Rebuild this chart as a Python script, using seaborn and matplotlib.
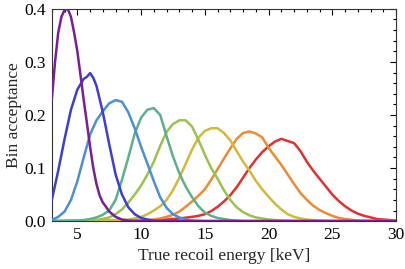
import matplotlib
matplotlib.use("Agg")
import matplotlib.pyplot as plt
import pandas as pd
import seaborn as sns
from matplotlib.ticker import MultipleLocator

# Bin acceptance curves vs true recoil energy (keV), one per energy bin
e1 = [3.0, 3.25, 3.5, 3.75, 4.0, 4.25, 4.5, 4.75, 5.0, 5.25, 5.5, 5.75, 6.0, 6.25,
      6.5, 6.75, 7.0, 7.25, 7.5, 8.0, 8.5, 9.0, 10.0, 30.0]
a1 = [0.23, 0.30, 0.355, 0.385, 0.398, 0.40, 0.385, 0.355, 0.32, 0.275, 0.228, 0.185,
      0.14, 0.10, 0.07, 0.048, 0.035, 0.027, 0.018, 0.008, 0.003, 0.001, 0.0, 0.0]

e2 = [3.0, 3.5, 4.0, 4.5, 5.0, 5.5, 5.75, 6.0, 6.25, 6.5, 7.0, 7.5, 8.0, 8.5, 9.0,
      9.5, 10.0, 10.5, 11.0, 12.0, 30.0]
a2 = [0.04, 0.095, 0.155, 0.21, 0.248, 0.268, 0.272, 0.279, 0.27, 0.255, 0.205, 0.145,
      0.088, 0.05, 0.026, 0.013, 0.006, 0.003, 0.001, 0.0, 0.0]

e3 = [3.0, 3.5, 4.0, 4.5, 5.0, 5.5, 6.0, 6.5, 7.0, 7.5, 8.0, 8.5, 9.0, 9.5, 10.0,
      10.5, 11.0, 11.5, 12.0, 12.5, 13.0, 13.5, 14.0, 15.0, 30.0]
a3 = [0.002, 0.008, 0.018, 0.04, 0.075, 0.12, 0.163, 0.19, 0.207, 0.222, 0.228, 0.225,
      0.205, 0.175, 0.14, 0.108, 0.075, 0.045, 0.025, 0.013, 0.007, 0.003, 0.001, 0.0, 0.0]

e4 = [3.0, 5.0, 5.5, 6.0, 6.5, 7.0, 7.5, 8.0, 8.5, 9.0, 9.5, 10.0, 10.5, 11.0, 11.5,
      12.0, 12.5, 13.0, 13.5, 14.0, 14.5, 15.0, 15.5, 16.0, 17.0, 18.0, 30.0]
a4 = [0.0, 0.001, 0.002, 0.004, 0.007, 0.012, 0.02, 0.04, 0.078, 0.12, 0.165, 0.195,
      0.21, 0.213, 0.2, 0.16, 0.122, 0.09, 0.065, 0.045, 0.028, 0.016, 0.01, 0.006,
      0.002, 0.0, 0.0]

e5 = [3.0, 6.0, 7.0, 7.5, 8.0, 8.5, 9.0, 9.5, 10.0, 10.5, 11.0, 11.5, 12.0, 12.5, 13.0,
      13.5, 14.0, 14.5, 15.0, 15.5, 16.0, 16.5, 17.0, 17.5, 18.0, 18.5, 19.0, 19.5,
      20.0, 21.0, 22.0, 30.0]
a5 = [0.0, 0.001, 0.004, 0.007, 0.013, 0.022, 0.035, 0.05, 0.067, 0.088, 0.112, 0.142,
      0.168, 0.183, 0.19, 0.19, 0.178, 0.153, 0.125, 0.1, 0.08, 0.058, 0.04, 0.026,
      0.017, 0.011, 0.007, 0.005, 0.003, 0.001, 0.0, 0.0]

e6 = [3.0, 8.0, 9.0, 9.5, 10.0, 10.5, 11.0, 11.5, 12.0, 12.5, 13.0, 13.5, 14.0, 14.5,
      15.0, 15.5, 16.0, 16.5, 17.0, 17.5, 18.0, 18.5, 19.0, 19.5, 20.0, 20.5, 21.0,
      21.5, 22.0, 22.5, 23.0, 24.0, 25.0, 30.0]
a6 = [0.0, 0.001, 0.003, 0.005, 0.008, 0.013, 0.02, 0.028, 0.04, 0.058, 0.082, 0.108,
      0.135, 0.157, 0.17, 0.175, 0.175, 0.166, 0.152, 0.132, 0.112, 0.095, 0.076, 0.06,
      0.046, 0.033, 0.022, 0.013, 0.008, 0.005, 0.003, 0.001, 0.0, 0.0]

e7 = [3.0, 10.0, 11.0, 11.5, 12.0, 12.5, 13.0, 13.5, 14.0, 14.5, 15.0, 15.5, 16.0,
      16.5, 17.0, 17.5, 18.0, 18.5, 19.0, 19.5, 20.0, 20.5, 21.0, 21.5, 22.0, 22.5,
      23.0, 23.5, 24.0, 24.5, 25.0, 25.5, 26.0, 27.0, 28.0, 30.0]
a7 = [0.0, 0.001, 0.003, 0.005, 0.008, 0.012, 0.018, 0.027, 0.037, 0.048, 0.06, 0.078,
      0.098, 0.118, 0.137, 0.155, 0.166, 0.169, 0.165, 0.158, 0.138, 0.122, 0.106,
      0.088, 0.07, 0.053, 0.04, 0.029, 0.021, 0.015, 0.01, 0.006, 0.004, 0.001, 0.0, 0.0]

e8 = [3.0, 11.0, 12.0, 13.0, 14.0, 14.5, 15.0, 15.5, 16.0, 16.5, 17.0, 17.5, 18.0,
      18.5, 19.0, 19.5, 20.0, 20.5, 21.0, 21.5, 22.0, 22.5, 23.0, 23.5, 24.0, 24.5,
      25.0, 25.5, 26.0, 26.5, 27.0, 27.5, 28.0, 28.5, 29.0, 30.0]
a8 = [0.0, 0.001, 0.003, 0.005, 0.008, 0.01, 0.013, 0.019, 0.027, 0.037, 0.049, 0.064,
      0.082, 0.1, 0.116, 0.13, 0.141, 0.15, 0.155, 0.151, 0.147, 0.132, 0.112, 0.095,
      0.08, 0.065, 0.05, 0.038, 0.028, 0.02, 0.014, 0.01, 0.007, 0.004, 0.003, 0.001]

energies = [e1, e2, e3, e4, e5, e6, e7, e8]
acceptances = [a1, a2, a3, a4, a5, a6, a7, a8]
colors = ["#7b1e96", "#3c3ed4", "#4a8fd8", "#5cb08e", "#9bc24c", "#d3b83b",
          "#ee8a32", "#e2312b"]

sns.set_theme(style="white")
plt.rcParams["font.family"] = ["Liberation Serif", "DejaVu Serif"]

fig = plt.figure(figsize=(4.05, 2.69), dpi=100)
ax = fig.add_axes([0.128, 0.178, 0.850, 0.789])

for i, (e, a) in enumerate(zip(energies, acceptances)):
    df = pd.DataFrame({"energy": e, "acceptance": a})
    sns.lineplot(data=df, x="energy", y="acceptance", color=colors[i], lw=1.8,
                 ax=ax, zorder=10 - i)

ax.set_xlim(3, 30)
ax.set_ylim(0, 0.4)
ax.xaxis.set_major_locator(MultipleLocator(5))
ax.xaxis.set_minor_locator(MultipleLocator(1))
ax.yaxis.set_major_locator(MultipleLocator(0.1))
ax.yaxis.set_minor_locator(MultipleLocator(0.02))
ax.yaxis.set_major_formatter(plt.FuncFormatter(lambda v, _: f"{v:.1f}"))
ax.tick_params(which="both", direction="in", top=True, right=True, colors="black",
               labelsize=12.5, width=0.8, pad=4)
ax.tick_params(which="major", length=4)
ax.tick_params(which="minor", length=2)
for s in ax.spines.values():
    s.set_color("#333333")
    s.set_linewidth(0.8)

ax.set_xlabel("True recoil energy [keV]", fontsize=12.5, labelpad=4)
ax.set_ylabel("Bin acceptance", fontsize=12.5, labelpad=2)

fig.savefig("out.png", dpi=100)
